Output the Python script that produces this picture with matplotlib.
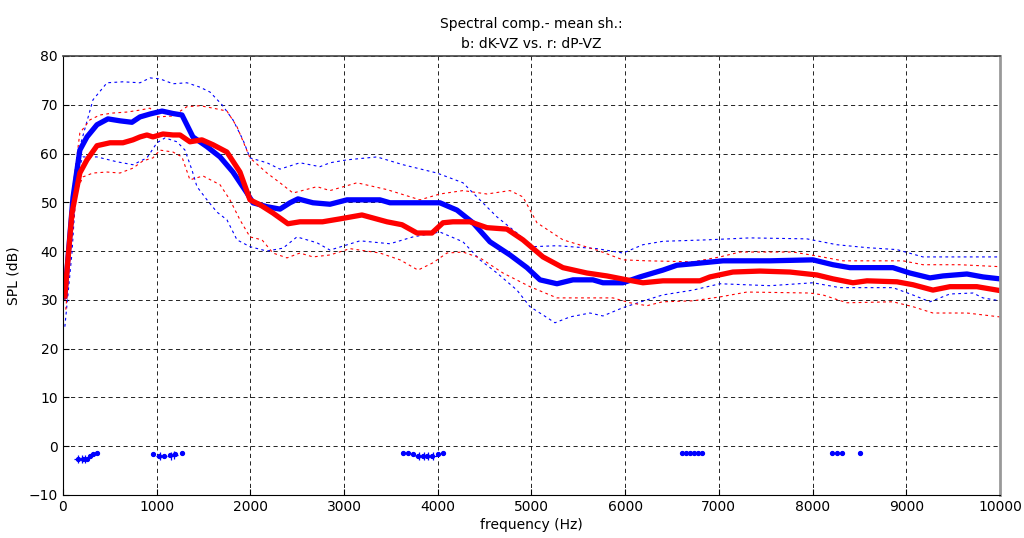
import matplotlib.pyplot as plt
import numpy as np

# mean spectra (thick) and spread (dotted): b = dK-VZ, r = dP-VZ
f_b = [20, 107, 180, 256, 363, 480, 608, 736, 822, 929, 1057, 1174, 1270, 1387, 1537,
       1676, 1814, 1964, 2028, 2177, 2316, 2423, 2508, 2668, 2850, 3031, 3383, 3490,
       4023, 4205, 4376, 4557, 4771, 4952, 5091, 5272, 5443, 5656, 5763, 5977, 6158,
       6403, 6553, 6724, 7044, 7545, 8004, 8218, 8399, 8858, 9039, 9253, 9392, 9648,
       9819, 10000]
b_mean = [30.8, 51.0, 60.7, 63.4, 65.9, 67.1, 66.7, 66.4, 67.5, 68.1, 68.7, 68.2, 67.9,
          63.4, 61.4, 59.3, 56.2, 51.9, 49.9, 49.1, 48.6, 49.9, 50.7, 49.9, 49.6, 50.5,
          50.5, 49.9, 49.9, 48.4, 45.8, 41.9, 39.2, 36.6, 34.1, 33.3, 34.1, 34.1, 33.5,
          33.5, 34.7, 36.1, 37.1, 37.4, 38.0, 38.0, 38.2, 37.2, 36.6, 36.6, 35.5, 34.5,
          34.9, 35.3, 34.7, 34.3]

f_r = [20, 96, 180, 256, 363, 502, 640, 747, 822, 896, 960, 1067, 1174, 1249, 1355,
       1483, 1601, 1750, 1889, 1996, 2102, 2241, 2401, 2529, 2770, 2956, 3191, 3458,
       3618, 3778, 3938, 4056, 4162, 4344, 4525, 4738, 4909, 5123, 5336, 5592, 5806,
       6019, 6190, 6403, 6798, 6905, 7150, 7439, 7759, 8047, 8218, 8431, 8581, 8901,
       9071, 9285, 9466, 9754, 10000]
r_mean = [30.8, 47.8, 56.0, 58.7, 61.6, 62.2, 62.2, 62.8, 63.4, 63.8, 63.4, 64.0, 63.8,
          63.8, 62.4, 62.8, 61.8, 60.3, 56.2, 50.5, 49.5, 47.8, 45.6, 46.0, 46.0, 46.6,
          47.4, 46.0, 45.4, 43.7, 43.7, 45.8, 46.0, 46.0, 44.8, 44.5, 42.3, 38.8, 36.6,
          35.5, 34.9, 34.1, 33.5, 33.9, 33.9, 34.7, 35.7, 35.9, 35.7, 35.1, 34.3, 33.5,
          33.9, 33.7, 33.1, 32.0, 32.7, 32.7, 31.9]

f_bu = [20, 150, 320, 470, 640, 822, 929, 1035, 1174, 1323, 1462, 1569, 1697, 1814,
        1921, 1996, 2177, 2316, 2529, 2743, 2850, 3031, 3351, 3629, 3991, 4269, 4418,
        4632, 4845, 5016, 5272, 5699, 5977, 6190, 6403, 6873, 7332, 7940, 8260, 8581,
        8901, 9178, 9573, 10000]
b_upper = [30.0, 59.3, 71.0, 74.5, 74.7, 74.5, 75.5, 75.3, 74.3, 74.5, 73.6, 72.6, 70.0,
           66.9, 62.8, 59.1, 58.1, 56.8, 58.1, 57.3, 58.1, 58.7, 59.3, 57.7, 56.0, 54.0,
           51.1, 47.0, 43.7, 40.9, 41.1, 40.5, 39.6, 41.3, 42.0, 42.3, 42.7, 42.5, 41.3,
           40.7, 40.3, 38.8, 38.8, 38.8]

f_bl = [20, 96, 150, 213, 363, 576, 747, 896, 1003, 1089, 1217, 1302, 1377, 1430, 1537,
        1643, 1750, 1857, 1996, 2177, 2348, 2497, 2711, 2850, 3170, 3490, 3735, 4023,
        4269, 4450, 4632, 4845, 4984, 5123, 5251, 5411, 5624, 5763, 5977, 6233, 6400,
        6724, 7012, 7545, 8004, 8292, 8858, 9071, 9253, 9466, 9712, 9819, 10000]
b_lower = [24.5, 39.6, 56.0, 59.3, 59.3, 58.3, 57.7, 59.1, 62.2, 63.2, 62.4, 60.7, 56.6,
           53.2, 50.5, 48.0, 46.4, 42.3, 40.9, 40.0, 40.6, 42.9, 41.7, 40.2, 42.1, 41.5,
           42.9, 43.9, 41.9, 38.2, 35.5, 32.0, 28.6, 26.9, 25.3, 26.5, 27.3, 26.7, 28.4,
           30.0, 31.0, 32.0, 33.3, 32.9, 33.5, 32.5, 32.5, 31.0, 29.6, 31.2, 31.4, 30.4,
           29.8]

f_ru = [20, 100, 180, 288, 395, 534, 683, 822, 929, 1014, 1174, 1323, 1462, 1601, 1750,
        1857, 1996, 2177, 2316, 2455, 2711, 2850, 3138, 3458, 3810, 4023, 4269, 4525,
        4771, 4909, 5059, 5336, 5699, 5977, 6233, 6724, 7012, 7225, 7791, 8047, 8324,
        8965, 9178, 9573, 10000]
r_upper = [30.0, 52.0, 64.2, 66.9, 67.9, 68.3, 68.5, 68.9, 69.3, 67.5, 67.7, 69.6, 69.8,
           69.3, 68.7, 65.5, 59.1, 56.0, 54.0, 51.9, 53.2, 52.4, 54.0, 52.6, 50.5, 51.7,
           52.4, 51.7, 52.4, 51.1, 45.8, 42.3, 40.2, 38.2, 38.0, 37.8, 38.8, 39.8, 39.8,
           39.0, 38.0, 38.0, 37.2, 37.2, 36.8]

f_rl = [30, 90, 150, 213, 320, 470, 608, 747, 854, 960, 1035, 1174, 1270, 1355, 1494,
        1676, 1782, 1889, 1996, 2124, 2241, 2391, 2529, 2668, 2850, 3063, 3383, 3597,
        3789, 3949, 4098, 4269, 4450, 4696, 4984, 5272, 5550, 5870, 6051, 6233, 6400,
        6724, 7012, 7300, 7972, 8111, 8367, 8858, 9071, 9285, 9648, 10000]
r_lower = [28.0, 42.0, 52.5, 55.2, 56.0, 56.2, 56.0, 57.0, 58.5, 59.1, 60.7, 60.3, 59.3,
           54.6, 55.4, 53.6, 50.5, 46.4, 42.9, 42.3, 39.6, 38.6, 39.6, 38.8, 39.2, 40.5,
           39.6, 38.2, 36.1, 37.6, 39.6, 39.8, 38.6, 35.5, 32.7, 30.4, 30.4, 30.4, 29.4,
           28.8, 29.6, 29.8, 30.6, 31.6, 31.4, 31.0, 29.4, 29.6, 28.6, 27.3, 27.3, 26.5]

# significance markers near 0 dB
f_sig = [160, 213, 256, 288, 320, 363, 960, 1020, 1080, 1140, 1200, 1270,
         3630, 3680, 3740, 3790, 3840, 3890, 3940, 4000, 4056,
         6606, 6650, 6690, 6730, 6775, 6820, 8207, 8260, 8313, 8506]
sig = [-2.6, -2.6, -2.6, -2.0, -1.7, -1.5, -1.6, -2.1, -2.0, -1.9, -1.7, -1.5,
       -1.4, -1.4, -1.7, -2.1, -2.1, -2.1, -2.1, -1.7, -1.4,
       -1.4, -1.4, -1.4, -1.4, -1.4, -1.4, -1.4, -1.4, -1.4, -1.4]
f_plus = [160, 200, 240, 1040, 1150, 1190, 3800, 3850, 3900, 3950]
plus = [-2.6, -2.6, -2.6, -2.1, -2.0, -1.9, -2.1, -2.1, -2.1, -2.1]

plt.rcParams['font.family'] = 'DejaVu Sans'
fig = plt.figure(figsize=(10.24, 5.38), dpi=100)
ax = fig.add_axes([0.0615, 0.080, 0.915, 0.816])

dots = (0, (2.5, 3))
ax.plot(f_bu, b_upper, color='blue', lw=0.8, ls=dots)
ax.plot(f_bl, b_lower, color='blue', lw=0.8, ls=dots)
ax.plot(f_ru, r_upper, color='red', lw=0.8, ls=dots)
ax.plot(f_rl, r_lower, color='red', lw=0.8, ls=dots)
ax.plot(f_b, b_mean, color='blue', lw=3.8, solid_joinstyle='round')
ax.plot(f_r, r_mean, color='red', lw=3.8, solid_joinstyle='round')

ax.plot(f_sig, sig, ls='none', marker='o', ms=2.8, color='blue')
ax.plot(f_plus, plus, ls='none', marker='+', ms=6, mew=0.9, color='blue')

ax.set_xlim(0, 10000)
ax.set_ylim(-10, 80)
ax.set_xticks(np.arange(0, 10001, 1000))
ax.set_yticks(np.arange(-10, 81, 10))
ax.grid(True, color='black', ls=(0, (5, 4)), lw=0.6)
ax.tick_params(direction='in', length=4, labelsize=10)
ax.spines['right'].set_color('#999999')
ax.spines['right'].set_linewidth(2)
ax.spines['top'].set_linewidth(1.2)
ax.spines['top'].set_color('#444444')

ax.set_xlabel('frequency (Hz)', fontsize=10, labelpad=3)
ax.set_ylabel('SPL (dB)', fontsize=10, labelpad=6)
ax.set_title('Spectral comp.- mean sh.:\nb: dK-VZ vs. r: dP-VZ', fontsize=10,
             linespacing=1.5, pad=6)

fig.savefig('out.png', dpi=100)
